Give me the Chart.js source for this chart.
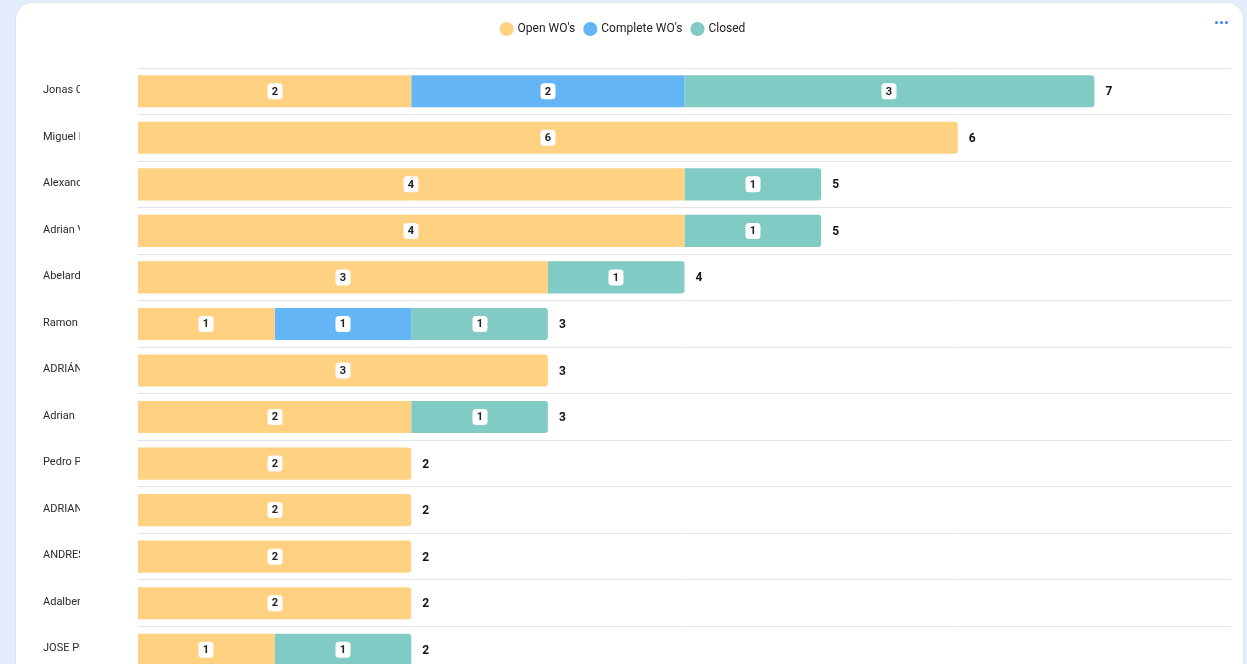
<!DOCTYPE html>
<html>
<head>
<meta charset="utf-8">
<script src="https://cdn.jsdelivr.net/npm/chart.js@4.4.1/dist/chart.umd.min.js"></script>
<style>
	html, body {
		margin: 0;
		padding: 0;
		background: #e4ecfb;
		overflow: hidden;
		font-family: Roboto, "Noto Sans", sans-serif;
	}
	.card {
		position: absolute;
		left: 16px;
		top: 3px;
		width: 1227px;
		height: 720px;
		background: #fff;
		border-radius: 16px;
		box-shadow: 0 0 0 1px #dbe4f5;
	}
	.card canvas {
		display: block;
	}
	.menu {
		position: absolute;
		right: 15px;
		top: 18px;
		display: flex;
		gap: 2px;
	}
	.menu span {
		width: 3px;
		height: 3px;
		border-radius: 50%;
		background: #3b82f6;
	}
</style>
</head>
<body>
<div class="card">
	<div class="menu"><span></span><span></span><span></span></div>
	<canvas id="wo_chart" width="1227" height="680"></canvas>
</div>
<script>
const technicians = ['Jonas Castro', 'Miguel Navarro', 'Alexander Ruiz', 'Adrian Vega', 'Abelardo Díaz', 'Ramon Torres', 'ADRIÁN LÓPEZ', 'Adrian  Soto', 'Pedro Pérez', 'ADRIAN MORA', 'ANDRES SILVA', 'Adalberto Gil', 'JOSE PEÑA'];
const open_wo = [2, 6, 4, 4, 3, 1, 3, 2, 2, 2, 2, 2, 1];
const complete_wo = [2, 0, 0, 0, 0, 1, 0, 0, 0, 0, 0, 0, 0];
const closed_wo = [3, 0, 1, 1, 1, 1, 0, 1, 0, 0, 0, 0, 1];
const x_max = 8;

function rounded_rect(ctx, x, y, w, h, r) {
	ctx.beginPath();
	ctx.moveTo(x + r, y);
	ctx.arcTo(x + w, y, x + w, y + h, r);
	ctx.arcTo(x + w, y + h, x, y + h, r);
	ctx.arcTo(x, y + h, x, y, r);
	ctx.arcTo(x, y, x + w, y, r);
	ctx.closePath();
}

// more room under the legend
const legend_gap = {
	id: 'legend_gap',
	beforeInit(chart) {
		const fit = chart.legend.fit;
		chart.legend.fit = function () {
			fit.bind(chart.legend)();
			this.height += 23;
		};
	}
};

// names on the left, cut off like in the dashboard
const name_labels = {
	id: 'name_labels',
	afterDraw(chart) {
		const ctx = chart.ctx;
		const y_scale = chart.scales.y;
		ctx.save();
		ctx.beginPath();
		ctx.rect(0, 0, 64, chart.height);
		ctx.clip();
		ctx.font = '11px Roboto, "Noto Sans", sans-serif';
		ctx.fillStyle = '#2a2a2a';
		ctx.textAlign = 'left';
		ctx.textBaseline = 'middle';
		chart.data.labels.forEach((name, i) => {
			ctx.fillText(name, 27, y_scale.getPixelForValue(i) - 1);
		});
		ctx.restore();
	}
};

// small white badges in each segment + totals at the end
const value_labels = {
	id: 'value_labels',
	afterDatasetsDraw(chart) {
		const ctx = chart.ctx;
		ctx.save();
		ctx.textAlign = 'center';
		ctx.textBaseline = 'middle';
		chart.data.datasets.forEach((ds, d) => {
			const meta = chart.getDatasetMeta(d);
			meta.data.forEach((bar, i) => {
				const v = ds.data[i];
				if (!v) return;
				const cx = Math.round((bar.x + bar.base) / 2);
				rounded_rect(ctx, cx - 7.5, bar.y - 8, 15, 16, 3.5);
				ctx.fillStyle = '#fff';
				ctx.fill();
				ctx.font = 'bold 11px Roboto, "Noto Sans", sans-serif';
				ctx.fillStyle = '#222';
				ctx.fillText(v, cx, bar.y + 0.5);
			});
		});
		const x_scale = chart.scales.x;
		const y_scale = chart.scales.y;
		ctx.textAlign = 'left';
		ctx.font = 'bold 12px Roboto, "Noto Sans", sans-serif';
		ctx.fillStyle = '#111';
		chart.data.labels.forEach((name, i) => {
			const total = open_wo[i] + complete_wo[i] + closed_wo[i];
			ctx.fillText(total, x_scale.getPixelForValue(total) + 11, y_scale.getPixelForValue(i) + 1);
		});
		ctx.restore();
	}
};

const config = {
	type: 'bar',
	data: {
		labels: technicians,
		datasets: [
			{
				label: "Open WO's",
				data: open_wo,
				backgroundColor: '#FFD180',
				borderRadius: 3
			},
			{
				label: "Complete WO's",
				data: complete_wo,
				backgroundColor: '#64B5F6',
				borderRadius: 3
			},
			{
				label: 'Closed',
				data: closed_wo,
				backgroundColor: '#80CBC4',
				borderRadius: 3
			}
		]
	},
	options: {
		indexAxis: 'y',
		responsive: false,
		animation: false,
		barPercentage: 0.69,
		categoryPercentage: 1,
		layout: {
			padding: {top: 10, right: 12, bottom: 10, left: 0}
		},
		plugins: {
			legend: {
				position: 'top',
				labels: {
					usePointStyle: true,
					pointStyle: 'circle',
					boxWidth: 10,
					boxHeight: 10,
					padding: 10,
					color: '#222',
					font: {family: 'Roboto', size: 12}
				}
			},
			tooltip: {enabled: false}
		},
		scales: {
			x: {
				stacked: true,
				min: 0,
				max: x_max,
				display: false
			},
			y: {
				stacked: true,
				ticks: {display: false},
				border: {display: false},
				grid: {color: '#e3e3e3', lineWidth: 1, drawTicks: false},
				afterFit(scale) {
					scale.width = 122;
				}
			}
		}
	},
	plugins: [legend_gap, name_labels, value_labels]
};

new Chart(document.getElementById('wo_chart'), config);
</script>
</body>
</html>
